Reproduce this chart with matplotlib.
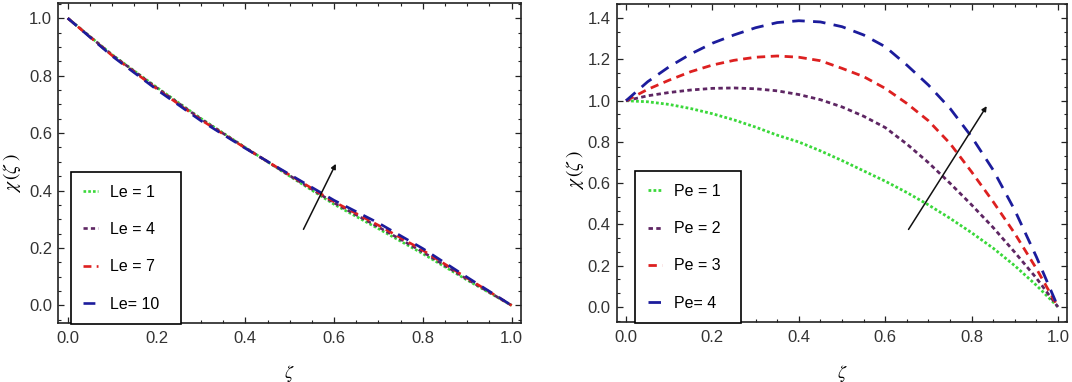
# -*- encoding: utf-8 -*-
import matplotlib
matplotlib.use("Agg")
import matplotlib.pyplot as plt
from matplotlib.ticker import MultipleLocator

plt.rcParams['font.family'] = ['Liberation Sans', 'DejaVu Sans']
plt.rcParams['mathtext.fontset'] = 'stix'

# ---- data ----
zeta_le = [0.0, 0.1, 0.2, 0.3, 0.4, 0.5, 0.6, 0.7, 0.8, 0.9, 1.0]
le_1 = [1.0, 0.873, 0.760, 0.651, 0.550, 0.450, 0.352, 0.267, 0.180, 0.088, 0.0]
le_4 = [1.0, 0.872, 0.758, 0.649, 0.549, 0.452, 0.357, 0.273, 0.186, 0.091, 0.0]
le_7 = [1.0, 0.870, 0.755, 0.646, 0.548, 0.454, 0.361, 0.279, 0.192, 0.095, 0.0]
le_10 = [1.0, 0.868, 0.752, 0.643, 0.547, 0.456, 0.366, 0.287, 0.198, 0.098, 0.0]
le_labels = ["Le = 1", "Le = 4", "Le = 7", "Le= 10"]

zeta_pe = [0.0, 0.05, 0.1, 0.15, 0.2, 0.25, 0.3, 0.35, 0.4, 0.45, 0.5,
           0.55, 0.6, 0.65, 0.7, 0.75, 0.8, 0.85, 0.9, 0.95, 1.0]
pe_1 = [1.0, 0.995, 0.982, 0.962, 0.937, 0.907, 0.872, 0.833, 0.800, 0.757, 0.710,
        0.660, 0.610, 0.555, 0.495, 0.430, 0.360, 0.285, 0.200, 0.105, 0.0]
pe_2 = [1.0, 1.024, 1.040, 1.052, 1.060, 1.062, 1.058, 1.048, 1.030, 1.005, 0.970,
        0.925, 0.870, 0.790, 0.700, 0.600, 0.495, 0.385, 0.265, 0.140, 0.0]
pe_3 = [1.0, 1.055, 1.100, 1.141, 1.173, 1.196, 1.211, 1.217, 1.211, 1.194, 1.157,
        1.117, 1.060, 0.987, 0.903, 0.793, 0.655, 0.510, 0.356, 0.186, 0.0]
pe_4 = [1.0, 1.092, 1.165, 1.227, 1.279, 1.319, 1.354, 1.379, 1.388, 1.382, 1.359,
        1.319, 1.262, 1.173, 1.076, 0.963, 0.825, 0.664, 0.469, 0.243, 0.0]
pe_labels = ["Pe = 1", "Pe = 2", "Pe = 3", "Pe= 4"]

# arrows (tail, head) in data units
arrow_le = ((0.531, 0.265), (0.604, 0.493))
arrow_pe = ((0.654, 0.376), (0.835, 0.974))

colors = ["#3ad83a", "#5e2663", "#dd2020", "#1c1c9c"]
styles = [(0, (1, 0.8)), (0, (1.6, 1.2)), (0, (3, 2)), (0, (4.5, 3))]


def style_axes(ax, yminor):
    ax.xaxis.set_major_locator(MultipleLocator(0.2))
    ax.xaxis.set_minor_locator(MultipleLocator(0.05))
    ax.yaxis.set_major_locator(MultipleLocator(0.2))
    ax.yaxis.set_minor_locator(MultipleLocator(yminor))
    ax.tick_params(which='both', direction='in', top=True, right=True,
                   colors='#222222', labelcolor='#333333', labelsize=12)
    ax.tick_params(which='major', length=4.5, width=0.9)
    ax.tick_params(which='minor', length=2.5, width=0.8)
    ax.tick_params(axis='y', pad=4.5)
    ax.tick_params(axis='x', pad=6)
    for s in ax.spines.values():
        s.set_linewidth(1.2)
        s.set_color('#222222')


def add_legend(ax, x0, w):
    leg = ax.legend(loc='lower left', bbox_to_anchor=(x0, -0.004, w, 0.5),
                    mode='expand', fontsize=11.5, frameon=True, fancybox=False,
                    edgecolor='black', framealpha=1, borderaxespad=0,
                    handlelength=0.9, handletextpad=0.75,
                    labelspacing=1.4, borderpad=0.78)
    leg.get_frame().set_linewidth(1.2)
    leg.set_zorder(5)


fig = plt.figure(figsize=(10.72, 3.82), dpi=100)

ax1 = fig.add_axes([0.0544, 0.1545, 0.4316, 0.8385])
for ys, lab, c, ls in zip([le_1, le_4, le_7, le_10], le_labels, colors, styles):
    ax1.plot(zeta_le, ys, color=c, linestyle=ls, lw=1.9, label=lab)
ax1.set_xlim(-0.0212, 1.021)
ax1.set_ylim(-0.061, 1.054)
style_axes(ax1, 0.05)
ax1.annotate("", xy=arrow_le[1], xytext=arrow_le[0],
             arrowprops=dict(arrowstyle='-|>', color='#111111', lw=1.1,
                             mutation_scale=7, shrinkA=0, shrinkB=0))
ax1.set_xlabel(r'$\zeta$', fontsize=13)
ax1.xaxis.set_label_coords(0.5, -0.125)
ax1.set_ylabel(r'$\chi\,(\zeta\;)$', fontsize=14)
ax1.yaxis.set_label_coords(-0.077, 0.468)
add_legend(ax1, 0.0274, 0.238)

ax2 = fig.add_axes([0.5756, 0.157, 0.4198, 0.8325])
for ys, lab, c, ls in zip([pe_1, pe_2, pe_3, pe_4], pe_labels, colors, styles):
    ax2.plot(zeta_pe, ys, color=c, linestyle=ls, lw=2.0, label=lab)
ax2.set_xlim(-0.0208, 1.021)
ax2.set_ylim(-0.073, 1.469)
style_axes(ax2, 0.2 / 3)
ax2.annotate("", xy=arrow_pe[1], xytext=arrow_pe[0],
             arrowprops=dict(arrowstyle='-|>', color='#111111', lw=1.1,
                             mutation_scale=7, shrinkA=0, shrinkB=0))
ax2.set_xlabel(r'$\zeta$', fontsize=13)
ax2.xaxis.set_label_coords(0.5, -0.128)
ax2.set_ylabel(r'$\chi\,(\zeta\;)$', fontsize=14)
ax2.yaxis.set_label_coords(-0.07, 0.478)
add_legend(ax2, 0.04, 0.236)

fig.savefig("out.png", dpi=100)
